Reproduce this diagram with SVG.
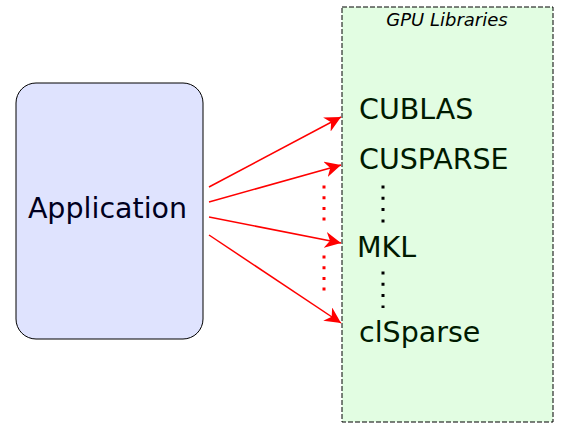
<svg xmlns="http://www.w3.org/2000/svg" width="570" height="428" viewBox="0 0 570 428">
<defs>
<style>
.lbl{font-family:"DejaVu Sans",sans-serif;font-size:28.5px;fill:#001a00}
.arr{stroke:#ff0000;stroke-width:1.5;fill:none;marker-end:url(#ah)}
.rdot{stroke:#ff0000;stroke-width:3;stroke-dasharray:3 7.7}
.kdot{stroke:#000;stroke-width:3;stroke-dasharray:3 8.3}
</style>
<marker id="ah" viewBox="0 0 10 10" refX="10" refY="5" markerWidth="16" markerHeight="16" markerUnits="userSpaceOnUse" orient="auto">
<path d="M0,0 L10,5 L0,10 L3,5 Z" fill="#ff0000"/>
</marker>
</defs>
<rect width="570" height="428" fill="#fff"/>
<g id="libs">
<rect x="342" y="7" width="211" height="415" fill="#e2fde2" stroke="#000" stroke-width="1" stroke-dasharray="5 2"/>
<text x="447" y="26" text-anchor="middle" font-family="DejaVu Sans,sans-serif" font-size="18" font-style="italic" fill="#000">GPU Libraries</text>
<text class="lbl" x="359" y="119">CUBLAS</text>
<text class="lbl" x="359" y="169">CUSPARSE</text>
<text class="lbl" x="357" y="256.5">MKL</text>
<text class="lbl" x="359" y="342">clSparse</text>
<line class="kdot" x1="383" y1="185.5" x2="383" y2="223"/>
<line class="kdot" x1="383" y1="271.5" x2="383" y2="308"/>
</g>
<g id="app">
<rect x="16" y="83" width="187" height="256" rx="20" ry="20" fill="#dfe3fe" stroke="#000" stroke-width="1"/>
<text x="107.5" y="218" text-anchor="middle" font-family="DejaVu Sans,sans-serif" font-size="28.5" fill="#000020">Application</text>
</g>
<g id="connectors">
<line class="arr" x1="209" y1="187" x2="341" y2="117"/>
<line class="arr" x1="209" y1="202" x2="341" y2="165"/>
<line class="arr" x1="209" y1="217" x2="341" y2="243"/>
<line class="arr" x1="209" y1="235" x2="341" y2="323"/>
<line class="rdot" x1="324" y1="185.5" x2="324" y2="222"/>
<line class="rdot" x1="324" y1="255.5" x2="324" y2="292"/>
</g>
</svg>
